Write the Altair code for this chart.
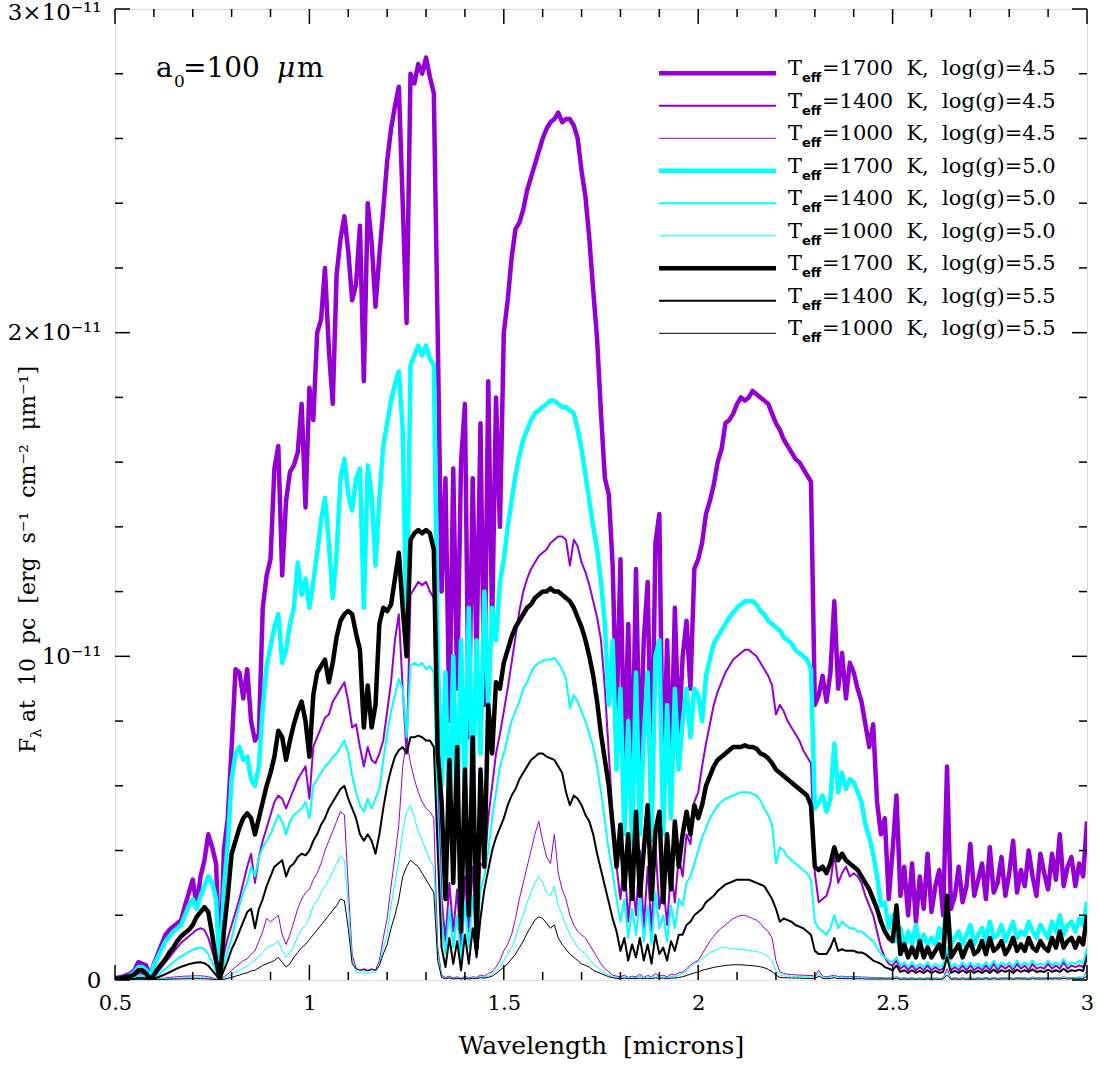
import altair as alt
import pandas as pd

# ---------------- data (flux in units of 1e-12 erg s^-1 cm^-2 um^-1) ----------------
wavelength = [round(0.50 + 0.01 * i, 2) for i in range(251)]

flux_1700_45 = [
    0.05, 0.08, 0.1, 0.15, 0.2, 0.3, 0.55, 0.5, 0.45, 0.1,
    0.5, 0.8, 1.1, 1.4, 1.55, 1.65, 1.75, 1.85, 2.3, 2.7,
    3.1, 2.3, 3.2, 3.7, 4.5, 4.1, 3.6, 0.0, 4.0, 5.0,
    7.2, 9.6, 9.5, 8.7, 9.6, 8.0, 7.4, 7.6, 11.5, 12.5,
    13.0, 15.8, 16.5, 12.5, 14.8, 15.7, 15.9, 16.3, 17.8, 14.6,
    18.3, 17.3, 20.0, 20.4, 22.0, 19.5, 17.8, 21.8, 22.9, 23.6,
    22.5, 21.0, 21.5, 23.3, 18.5, 24.0, 22.8, 20.8, 22.4, 23.8,
    25.3, 26.3, 27.0, 27.6, 24.0, 20.3, 28.0, 27.7, 28.3, 28.0,
    28.5, 27.9, 27.4, 20.0, 12.0, 15.5, 8.0, 15.8, 9.0, 16.0,
    17.8, 7.5, 15.5, 10.0, 17.2, 8.5, 18.5, 11.0, 18.0, 14.0,
    20.0, 21.0, 22.3, 23.2, 23.4, 23.8, 24.4, 24.8, 25.2, 25.6,
    26.0, 26.3, 26.5, 26.6, 26.8, 26.5, 26.6, 26.6, 26.4, 26.0,
    25.0, 24.2, 22.9, 21.3, 19.8, 17.5, 15.5, 15.0, 12.8, 8.0,
    13.0, 6.5, 11.0, 6.0, 12.7, 6.5, 10.5, 12.3, 5.8, 13.5,
    14.4, 5.6, 10.5, 6.5, 11.5, 7.5, 10.0, 11.1, 9.0, 12.7,
    13.0, 13.5, 14.4, 14.8, 15.3, 16.0, 16.4, 17.2, 17.3, 17.5,
    17.8, 18.0, 17.9, 18.0, 18.2, 18.1, 18.0, 17.9, 17.8, 17.5,
    17.2, 17.0, 16.7, 16.5, 16.3, 16.1, 16.0, 15.8, 15.6, 15.4,
    8.5, 8.8, 9.4, 8.6, 9.5, 11.7, 9.0, 10.1, 8.7, 9.8,
    9.5, 9.0, 8.6, 7.9, 7.2, 7.9, 5.5, 4.5, 5.0, 2.5,
    4.0, 5.7, 2.6, 3.5, 2.0, 3.6, 1.8, 3.2, 2.2, 3.9,
    2.1, 2.9, 3.4, 2.0, 6.6, 2.2, 2.6, 3.5, 2.4, 2.9,
    4.2, 2.6, 3.1, 3.6, 2.5, 4.1, 2.7, 3.0, 3.8, 2.6,
    3.3, 4.3, 2.7, 3.4, 2.9, 4.0, 3.2, 2.6, 3.9, 3.3,
    2.8, 3.9, 3.1, 4.5, 2.9, 3.5, 3.8, 2.9, 3.6, 3.2,
    4.9,
]

flux_1400_45 = [
    0.02, 0.03, 0.04, 0.06, 0.08, 0.12, 0.2, 0.2, 0.15, 0.02,
    0.1, 0.25, 0.4, 0.55, 0.7, 0.85, 1.0, 1.15, 1.25, 1.35,
    1.45, 1.55, 1.6, 1.55, 1.3, 0.9, 0.45, 0.0, 0.8, 1.3,
    1.7, 2.1, 2.5, 3.0, 3.5, 3.9, 3.0, 3.8, 4.3, 4.7,
    5.1, 5.5, 5.7, 5.6, 5.3, 5.6, 5.9, 6.2, 6.4, 6.6,
    5.6, 7.2, 7.5, 7.8, 8.1, 8.2, 8.6, 8.8, 9.0, 9.2,
    8.6, 7.8, 7.9, 7.2, 6.6, 7.2, 6.8, 6.7, 7.0, 7.4,
    8.3, 9.2, 10.5, 11.3, 9.0, 7.0, 11.9, 12.1, 12.3, 12.2,
    12.3, 12.0, 11.8, 6.0, 2.5, 1.2, 3.0, 1.5, 2.8, 0.9,
    3.2, 1.5, 3.5, 1.8, 3.6, 3.5, 5.0, 6.0, 7.0, 7.6,
    8.3, 9.0, 9.8, 10.6, 11.4, 12.0, 12.4, 12.7, 12.9, 13.1,
    13.2, 13.3, 13.5, 13.6, 13.7, 13.7, 13.6, 12.8, 13.6, 13.4,
    12.9, 12.6, 12.2, 11.7, 11.2, 10.5, 9.0, 7.0, 5.0, 3.5,
    2.5, 3.8, 1.8, 3.2, 2.0, 4.0, 1.6, 3.5, 1.5, 4.2,
    2.2, 3.0, 1.7, 3.4, 2.4, 3.8, 3.2, 4.5, 4.2, 5.5,
    5.8, 6.6, 7.3, 7.9, 8.5, 8.9, 9.2, 9.5, 9.7, 9.9,
    10.0, 10.1, 10.2, 10.2, 10.1, 10.0, 9.8, 9.6, 9.4, 9.1,
    8.2, 8.5, 8.3, 8.0, 7.8, 7.6, 7.4, 7.1, 6.9, 6.7,
    3.3, 2.4, 2.5, 2.6, 3.0, 3.9, 3.0, 3.3, 3.5, 3.2,
    3.3, 3.2, 3.0, 2.6, 2.3, 2.0, 1.5, 1.0, 0.7, 0.5,
    0.45, 0.6, 0.35, 0.45, 0.3, 0.45, 0.3, 0.4, 0.3, 0.45,
    0.3, 0.4, 0.3, 0.35, 0.9, 0.3, 0.4, 0.3, 0.45, 0.3,
    0.45, 0.3, 0.4, 0.3, 0.45, 0.3, 0.5, 0.3, 0.45, 0.35,
    0.45, 0.3, 0.5, 0.35, 0.45, 0.3, 0.5, 0.35, 0.4, 0.35,
    0.5, 0.35, 0.45, 0.35, 0.55, 0.35, 0.45, 0.4, 0.45, 0.4,
    0.8,
]

flux_1000_45 = [
    0.0, 0.005, 0.01, 0.01, 0.015, 0.02, 0.03, 0.03, 0.02, 0.0,
    0.02, 0.03, 0.05, 0.06, 0.08, 0.09, 0.1, 0.11, 0.12, 0.12,
    0.13, 0.13, 0.13, 0.12, 0.1, 0.07, 0.03, 0.0, 0.1, 0.18,
    0.3, 0.4, 0.5, 0.6, 0.65, 0.8, 0.9, 1.2, 1.5, 1.9,
    1.8, 1.9, 2.0, 1.4, 1.1, 1.4, 1.8, 2.2, 2.5, 2.7,
    2.8, 3.1, 3.3, 3.6, 4.0, 4.3, 4.6, 4.9, 5.2, 5.1,
    2.9, 0.8, 0.35, 0.3, 0.35, 0.3, 0.35, 0.3, 0.6, 1.3,
    1.9, 2.9, 3.8, 4.8, 6.6, 7.4, 6.7, 6.2, 5.8, 5.5,
    5.3, 5.2, 5.0, 1.0, 0.15, 0.08, 0.12, 0.06, 0.1, 0.05,
    0.12, 0.06, 0.1, 0.08, 0.15, 0.12, 0.2, 0.25, 0.4, 0.6,
    0.9, 1.1, 1.4, 1.9, 2.5, 3.0, 3.5, 4.0, 4.5, 4.9,
    4.3, 3.8, 3.6, 4.5, 3.3, 2.8, 2.5, 2.0, 1.7, 1.5,
    1.4, 1.3, 1.1, 0.9, 0.7, 0.5, 0.35, 0.25, 0.15, 0.12,
    0.1, 0.15, 0.08, 0.12, 0.1, 0.18, 0.08, 0.14, 0.1, 0.2,
    0.12, 0.15, 0.1, 0.18, 0.15, 0.22, 0.25, 0.35, 0.45, 0.55,
    0.6, 0.8, 1.0, 1.2, 1.35, 1.5, 1.6, 1.7, 1.8, 1.9,
    1.95, 2.0, 2.0, 1.95, 1.9, 1.85, 1.75, 1.6, 1.5, 1.3,
    0.6, 0.25, 0.2, 0.18, 0.17, 0.16, 0.15, 0.15, 0.14, 0.14,
    0.12, 0.3, 0.12, 0.1, 0.12, 0.15, 0.1, 0.12, 0.1, 0.1,
    0.1, 0.1, 0.09, 0.09, 0.08, 0.08, 0.07, 0.07, 0.06, 0.06,
    0.06, 0.1, 0.05, 0.07, 0.05, 0.07, 0.05, 0.06, 0.05, 0.07,
    0.05, 0.06, 0.05, 0.06, 0.35, 0.05, 0.07, 0.05, 0.07, 0.05,
    0.07, 0.05, 0.07, 0.05, 0.08, 0.05, 0.08, 0.05, 0.07, 0.06,
    0.08, 0.05, 0.08, 0.06, 0.07, 0.05, 0.09, 0.06, 0.07, 0.06,
    0.08, 0.06, 0.08, 0.06, 0.1, 0.06, 0.08, 0.07, 0.09, 0.08,
    0.3,
]

flux_1700_50 = [
    0.02, 0.04, 0.06, 0.1, 0.15, 0.25, 0.4, 0.4, 0.3, 0.1,
    0.45, 0.7, 0.95, 1.2, 1.35, 1.5, 1.6, 1.7, 2.0, 2.3,
    2.5, 2.2, 2.6, 2.9, 3.2, 3.0, 2.5, 0.0, 2.8, 4.2,
    6.2, 7.0, 7.2, 6.8, 6.9, 6.2, 6.0, 6.6, 8.4, 9.7,
    10.3, 10.9, 11.3, 9.8, 10.2, 11.0, 11.5, 12.9, 11.9, 12.4,
    11.5, 12.3, 13.2, 14.2, 14.9, 13.5, 11.8, 13.2, 15.5, 16.1,
    15.0, 14.5, 15.5, 15.8, 11.5, 15.9, 15.0, 12.8, 14.9, 16.5,
    17.2, 17.9, 18.4, 18.8, 17.0, 10.5, 19.0, 19.3, 19.6, 19.3,
    19.6, 19.2, 19.0, 10.0, 6.0, 9.5, 4.5, 10.0, 5.0, 10.5,
    6.0, 11.5, 5.5, 10.5, 7.0, 12.0, 8.5, 11.5, 10.5, 12.3,
    13.0, 14.0, 14.8, 15.6, 16.2, 16.7, 17.0, 17.3, 17.5, 17.6,
    17.7, 17.8, 17.9, 17.9, 17.8, 17.7, 17.7, 17.6, 17.5, 17.0,
    16.4, 15.6, 14.8, 14.0, 13.3, 12.3, 11.0, 8.5, 10.5, 6.5,
    9.0, 4.5, 8.0, 4.2, 9.5, 4.5, 7.5, 9.5, 4.3, 10.0,
    10.5, 4.5, 8.5, 5.0, 9.0, 6.5, 8.0, 9.0, 7.5, 9.0,
    8.8, 8.0, 9.4, 9.9, 10.4, 10.6, 10.8, 11.0, 11.2, 11.35,
    11.5, 11.6, 11.7, 11.7, 11.7, 11.6, 11.4, 11.3, 11.1, 11.0,
    10.9, 10.8, 10.6, 10.5, 10.4, 10.2, 10.1, 10.0, 9.9, 9.6,
    5.3, 5.5, 5.7, 5.2, 5.6, 7.3, 5.8, 6.4, 5.9, 6.2,
    6.1, 5.8, 5.5, 4.8, 4.4, 3.9, 3.2, 2.3, 2.4, 1.6,
    2.0, 1.2, 1.6, 1.0, 1.5, 1.1, 1.7, 1.0, 1.4, 1.1,
    1.3, 1.1, 1.6, 1.2, 2.4, 1.1, 1.3, 1.5, 1.1, 1.4,
    1.7, 1.1, 1.4, 1.6, 1.2, 1.8, 1.3, 1.4, 1.7, 1.2,
    1.5, 1.8, 1.3, 1.5, 1.4, 1.8, 1.5, 1.3, 1.7, 1.5,
    1.3, 1.8, 1.5, 2.0, 1.4, 1.7, 1.8, 1.5, 1.9, 1.7,
    2.4,
]

flux_1400_50 = [
    0.01, 0.02, 0.03, 0.04, 0.05, 0.08, 0.12, 0.12, 0.1, 0.01,
    0.06, 0.15, 0.25, 0.35, 0.45, 0.55, 0.65, 0.72, 0.8, 0.87,
    0.93, 0.98, 1.0, 0.95, 0.8, 0.55, 0.28, 0.0, 0.5, 0.9,
    1.3, 1.8, 2.3, 2.7, 3.0, 3.5, 3.2, 3.8, 4.1, 4.3,
    4.5, 4.8, 5.1, 4.9, 4.5, 4.9, 5.1, 5.2, 5.3, 5.5,
    5.0, 6.0, 6.2, 6.4, 6.6, 6.7, 6.9, 7.0, 7.2, 7.4,
    7.0, 6.3, 5.8, 5.4, 5.2, 5.6, 5.3, 5.6, 5.9, 6.8,
    7.6, 8.3, 8.8, 9.3, 9.0, 7.5, 9.7, 9.8, 9.7, 9.8,
    9.6, 9.7, 9.5, 5.0, 1.8, 0.8, 2.2, 1.0, 2.0, 0.6,
    2.4, 1.0, 2.6, 1.2, 2.8, 3.2, 4.0, 5.0, 5.8, 6.6,
    7.0, 7.5, 8.0, 8.3, 8.6, 9.0, 9.2, 9.5, 9.7, 9.8,
    9.85, 9.9, 9.9, 9.95, 9.8, 9.6, 9.3, 8.4, 8.8, 8.6,
    8.3, 8.0, 7.6, 7.2, 6.6, 5.8, 4.9, 4.0, 3.3, 2.5,
    1.8, 2.5, 1.3, 2.2, 1.4, 2.6, 1.2, 2.3, 1.1, 2.7,
    1.6, 2.0, 1.2, 2.3, 1.6, 2.5, 2.3, 3.0, 3.2, 3.6,
    4.0, 4.4, 4.7, 5.0, 5.2, 5.4, 5.5, 5.6, 5.65, 5.7,
    5.75, 5.8, 5.8, 5.8, 5.75, 5.7, 5.55, 5.3, 5.1, 4.8,
    3.6, 4.1, 4.0, 3.8, 3.7, 3.6, 3.5, 3.4, 3.3, 3.1,
    1.8, 1.6, 1.5, 1.4, 1.6, 2.0, 1.6, 1.8, 1.7, 1.6,
    1.6, 1.5, 1.5, 1.4, 1.3, 1.2, 1.0, 0.8, 0.7, 0.6,
    0.55, 0.7, 0.45, 0.55, 0.4, 0.55, 0.4, 0.5, 0.4, 0.55,
    0.4, 0.5, 0.4, 0.45, 1.0, 0.4, 0.5, 0.4, 0.55, 0.4,
    0.55, 0.4, 0.5, 0.4, 0.55, 0.4, 0.6, 0.4, 0.55, 0.45,
    0.55, 0.4, 0.6, 0.45, 0.55, 0.45, 0.6, 0.45, 0.5, 0.45,
    0.6, 0.45, 0.55, 0.45, 0.65, 0.45, 0.55, 0.5, 0.6, 0.5,
    1.0,
]

flux_1000_50 = [
    0.0, 0.003, 0.005, 0.007, 0.01, 0.012, 0.015, 0.015, 0.01, 0.0,
    0.01, 0.02, 0.03, 0.035, 0.045, 0.05, 0.055, 0.06, 0.065, 0.07,
    0.07, 0.07, 0.07, 0.065, 0.055, 0.04, 0.02, 0.0, 0.05, 0.1,
    0.18, 0.25, 0.3, 0.38, 0.42, 0.55, 0.6, 0.75, 0.85, 1.0,
    1.05, 1.1, 1.2, 0.9, 0.7, 0.85, 1.05, 1.35, 1.55, 1.7,
    1.9, 2.3, 2.45, 2.7, 2.9, 3.1, 3.35, 3.6, 3.85, 3.7,
    2.3, 0.6, 0.25, 0.22, 0.25, 0.2, 0.25, 0.22, 0.45, 1.0,
    1.4, 2.3, 3.0, 3.7, 4.6, 5.2, 5.4, 5.0, 4.6, 4.3,
    4.0, 3.7, 3.5, 0.8, 0.1, 0.05, 0.08, 0.04, 0.07, 0.04,
    0.08, 0.04, 0.07, 0.05, 0.1, 0.08, 0.12, 0.18, 0.3, 0.4,
    0.6, 0.8, 1.0, 1.3, 1.7, 2.0, 2.4, 2.7, 3.0, 3.2,
    3.0, 2.7, 2.6, 2.9, 2.3, 2.0, 1.7, 1.4, 1.2, 1.0,
    0.9, 0.8, 0.65, 0.5, 0.4, 0.3, 0.2, 0.15, 0.1, 0.08,
    0.07, 0.1, 0.06, 0.09, 0.07, 0.12, 0.06, 0.1, 0.07, 0.14,
    0.08, 0.1, 0.07, 0.12, 0.1, 0.15, 0.2, 0.3, 0.4, 0.5,
    0.55, 0.65, 0.75, 0.85, 0.9, 0.95, 1.0, 1.0, 0.98, 0.97,
    0.95, 0.95, 0.93, 0.92, 0.9, 0.88, 0.85, 0.8, 0.72, 0.6,
    0.3, 0.15, 0.13, 0.12, 0.12, 0.11, 0.11, 0.1, 0.1, 0.1,
    0.09, 0.2, 0.09, 0.08, 0.09, 0.12, 0.08, 0.09, 0.08, 0.08,
    0.08, 0.07, 0.07, 0.07, 0.06, 0.06, 0.06, 0.05, 0.05, 0.05,
    0.05, 0.08, 0.04, 0.06, 0.04, 0.06, 0.04, 0.05, 0.04, 0.06,
    0.04, 0.05, 0.04, 0.05, 0.25, 0.04, 0.06, 0.04, 0.06, 0.04,
    0.06, 0.04, 0.06, 0.04, 0.07, 0.04, 0.07, 0.04, 0.06, 0.05,
    0.07, 0.04, 0.07, 0.05, 0.06, 0.04, 0.08, 0.05, 0.06, 0.05,
    0.07, 0.05, 0.07, 0.05, 0.09, 0.05, 0.07, 0.06, 0.08, 0.07,
    0.25,
]

flux_1700_55 = [
    0.03, 0.05, 0.07, 0.1, 0.12, 0.18, 0.3, 0.3, 0.2, 0.02,
    0.15, 0.35, 0.5, 0.65, 0.85, 1.0, 1.2, 1.35, 1.45, 1.55,
    1.7, 1.95, 2.1, 2.25, 2.1, 1.4, 0.6, 0.0, 1.5, 2.6,
    3.9, 4.3, 4.7, 5.0, 5.15, 5.0, 4.5, 5.0, 5.5, 6.0,
    6.4, 6.9, 7.7, 7.5, 6.8, 7.4, 7.9, 8.3, 8.6, 8.0,
    6.9, 8.8, 9.5, 9.7, 9.9, 9.2, 9.8, 10.6, 11.1, 11.3,
    11.4, 11.3, 10.7, 10.2, 7.8, 9.1, 7.8, 8.5, 11.0, 11.5,
    11.4, 11.6, 12.4, 13.2, 11.5, 10.0, 13.6, 13.8, 13.9, 13.8,
    13.9, 13.8, 13.3, 7.0, 5.5, 2.5, 6.8, 3.0, 7.2, 1.5,
    6.5, 2.0, 7.5, 1.0, 6.5, 3.5, 8.5, 7.0, 9.2, 9.0,
    9.8, 10.2, 10.6, 10.9, 11.1, 11.3, 11.5, 11.6, 11.8, 11.9,
    12.0, 12.0, 12.1, 12.0, 12.0, 11.9, 11.8, 11.7, 11.5, 11.2,
    10.9, 10.5, 10.0, 9.4, 8.6, 7.6, 6.8, 6.0, 4.8, 3.5,
    4.8, 2.8, 4.5, 2.5, 5.2, 2.6, 4.0, 5.4, 2.5, 4.6,
    5.2, 2.4, 4.5, 2.8, 4.9, 3.5, 4.5, 5.2, 4.5, 5.4,
    5.0, 5.4, 6.0, 6.3, 6.6, 6.8, 6.9, 7.0, 7.1, 7.2,
    7.2, 7.2, 7.25, 7.2, 7.2, 7.15, 7.0, 6.95, 6.85, 6.7,
    6.5, 6.4, 6.3, 6.2, 6.1, 6.0, 5.9, 5.8, 5.7, 5.4,
    3.5, 3.4, 3.5, 3.3, 3.6, 4.1, 3.7, 3.9, 3.7, 3.6,
    3.5, 3.4, 3.2, 3.0, 2.8, 2.5, 2.2, 1.8, 1.5, 1.3,
    1.2, 2.3, 0.8, 1.1, 0.7, 1.0, 0.7, 1.2, 0.7, 1.0,
    0.7, 0.9, 1.1, 0.7, 2.6, 0.7, 0.9, 1.1, 0.7, 1.0,
    1.2, 0.8, 0.9, 1.2, 0.8, 1.3, 0.9, 1.0, 1.2, 0.8,
    1.0, 1.3, 0.9, 1.1, 0.9, 1.3, 1.0, 0.9, 1.2, 1.0,
    0.9, 1.3, 1.0, 1.5, 1.0, 1.2, 1.3, 1.0, 1.3, 1.1,
    2.0,
]

flux_1400_55 = [
    0.01, 0.01, 0.02, 0.02, 0.03, 0.04, 0.06, 0.06, 0.05, 0.0,
    0.03, 0.08, 0.13, 0.18, 0.24, 0.3, 0.36, 0.41, 0.45, 0.49,
    0.52, 0.54, 0.55, 0.52, 0.44, 0.3, 0.15, 0.0, 0.3, 0.6,
    0.95, 1.2, 1.5, 1.8, 2.1, 2.2, 1.6, 2.2, 2.5, 2.9,
    3.2, 3.5, 3.6, 3.7, 3.2, 3.5, 3.6, 3.8, 3.9, 3.85,
    4.0, 4.3, 4.5, 4.8, 5.0, 5.3, 5.5, 5.7, 5.9, 6.0,
    5.6, 5.3, 5.0, 4.5, 4.3, 4.5, 4.3, 3.9, 4.5, 5.3,
    6.0, 6.5, 6.9, 7.1, 7.2, 7.0, 7.5, 7.5, 7.55, 7.5,
    7.4, 7.4, 7.2, 4.0, 1.0, 0.4, 1.3, 0.5, 1.2, 0.3,
    1.4, 0.5, 1.6, 0.7, 1.9, 2.8, 3.4, 4.0, 4.4, 4.7,
    5.0, 5.4, 5.7, 5.9, 6.2, 6.4, 6.6, 6.8, 6.9, 7.0,
    7.0, 6.9, 6.85, 6.8, 6.6, 6.4, 5.8, 5.4, 5.7, 5.6,
    5.4, 5.1, 4.9, 4.5, 3.9, 3.4, 2.9, 2.4, 1.9, 1.5,
    0.9, 1.3, 0.6, 1.1, 0.7, 1.3, 0.6, 1.1, 0.5, 1.4,
    0.8, 1.0, 0.6, 1.2, 0.9, 1.4, 1.4, 1.7, 1.8, 2.0,
    2.1, 2.2, 2.4, 2.5, 2.6, 2.75, 2.85, 2.95, 3.0, 3.05,
    3.1, 3.1, 3.1, 3.1, 3.05, 3.0, 2.95, 2.9, 2.7, 2.5,
    2.2, 1.8, 1.9, 1.85, 1.8, 1.7, 1.65, 1.6, 1.5, 1.4,
    0.9, 0.8, 0.8, 0.8, 1.0, 1.3, 0.9, 0.95, 0.9, 0.9,
    0.9, 0.85, 0.85, 0.8, 0.7, 0.6, 0.55, 0.5, 0.4, 0.35,
    0.3, 0.45, 0.25, 0.3, 0.22, 0.3, 0.22, 0.28, 0.22, 0.3,
    0.22, 0.28, 0.22, 0.25, 0.7, 0.22, 0.28, 0.22, 0.3, 0.22,
    0.3, 0.22, 0.28, 0.22, 0.3, 0.22, 0.32, 0.22, 0.3, 0.25,
    0.3, 0.22, 0.32, 0.25, 0.3, 0.25, 0.33, 0.25, 0.28, 0.25,
    0.32, 0.25, 0.3, 0.25, 0.35, 0.25, 0.3, 0.28, 0.32, 0.28,
    0.7,
]

flux_1000_55 = [
    0.0, 0.002, 0.003, 0.004, 0.005, 0.007, 0.009, 0.009, 0.006, 0.0,
    0.005, 0.01, 0.015, 0.02, 0.025, 0.028, 0.032, 0.035, 0.038, 0.04,
    0.04, 0.04, 0.04, 0.038, 0.032, 0.022, 0.01, 0.0, 0.02, 0.05,
    0.08, 0.12, 0.15, 0.2, 0.22, 0.28, 0.3, 0.38, 0.45, 0.5,
    0.55, 0.6, 0.7, 0.55, 0.4, 0.5, 0.7, 0.85, 1.0, 1.1,
    1.25, 1.4, 1.55, 1.7, 1.85, 2.0, 2.15, 2.3, 2.5, 2.45,
    1.6, 0.5, 0.35, 0.3, 0.32, 0.28, 0.32, 0.3, 0.45, 0.8,
    1.1, 1.6, 2.0, 2.5, 3.2, 3.5, 3.7, 3.6, 3.5, 3.3,
    3.1, 2.9, 2.7, 0.6, 0.08, 0.04, 0.06, 0.03, 0.05, 0.03,
    0.05, 0.03, 0.05, 0.04, 0.07, 0.06, 0.08, 0.12, 0.2, 0.3,
    0.4, 0.5, 0.65, 0.8, 1.0, 1.2, 1.45, 1.65, 1.85, 1.95,
    1.9, 1.75, 1.6, 1.7, 1.3, 1.1, 0.95, 0.8, 0.7, 0.6,
    0.5, 0.45, 0.4, 0.3, 0.25, 0.2, 0.15, 0.1, 0.07, 0.05,
    0.04, 0.06, 0.04, 0.05, 0.04, 0.06, 0.04, 0.05, 0.04, 0.07,
    0.05, 0.06, 0.04, 0.06, 0.06, 0.08, 0.1, 0.14, 0.18, 0.22,
    0.25, 0.3, 0.33, 0.36, 0.39, 0.41, 0.43, 0.45, 0.46, 0.47,
    0.47, 0.47, 0.46, 0.45, 0.44, 0.43, 0.41, 0.38, 0.33, 0.26,
    0.15, 0.08, 0.07, 0.07, 0.06, 0.06, 0.06, 0.05, 0.05, 0.05,
    0.05, 0.12, 0.05, 0.04, 0.05, 0.07, 0.04, 0.05, 0.04, 0.04,
    0.04, 0.04, 0.04, 0.03, 0.03, 0.03, 0.03, 0.03, 0.03, 0.03,
    0.03, 0.05, 0.02, 0.03, 0.02, 0.03, 0.02, 0.03, 0.02, 0.03,
    0.02, 0.03, 0.02, 0.03, 0.15, 0.02, 0.03, 0.02, 0.03, 0.02,
    0.03, 0.02, 0.03, 0.02, 0.04, 0.02, 0.04, 0.02, 0.03, 0.03,
    0.04, 0.02, 0.04, 0.03, 0.03, 0.02, 0.04, 0.03, 0.03, 0.03,
    0.04, 0.03, 0.04, 0.03, 0.05, 0.03, 0.04, 0.03, 0.04, 0.04,
    0.12,
]

teff_labels = ["1700", "1400", "1000", "1700", "1400", "1000", "1700", "1400", "1000"]
logg_labels = ["4.5", "4.5", "4.5", "5.0", "5.0", "5.0", "5.5", "5.5", "5.5"]
series_values = [flux_1700_45, flux_1400_45, flux_1000_45,
                 flux_1700_50, flux_1400_50, flux_1000_50,
                 flux_1700_55, flux_1400_55, flux_1000_55]
line_colors = ["#9400D3", "#9400D3", "#9400D3",
               "#00FFFF", "#00FFFF", "#00FFFF",
               "#000000", "#000000", "#000000"]
line_widths = [4.5, 2.0, 1.0, 4.5, 2.0, 1.0, 4.5, 2.0, 1.0]

for v in series_values:
    assert len(v) == len(wavelength)

# ---------------- layout constants ----------------
W, H = 972, 971
FONT = "DejaVu Serif"
NB = "\u00a0"

x_scale = alt.Scale(domain=[0.5, 3.0], nice=False, zero=False)
y_scale = alt.Scale(domain=[0, 3e-11], nice=False, zero=False)

# one identical axis definition shared by every layer that uses the scales
x_axis = alt.Axis(
    values=[0.5, 1, 1.5, 2, 2.5, 3], format="~g", ticks=False, tickSize=0,
    domain=False, grid=False, labelFlush=False, labelOverlap=False,
    labelFont=FONT, labelFontSize=21, labelColor="black", labelPadding=12,
    title="Wavelength" + NB + NB + "[microns]", titleFont=FONT, titleFontSize=25,
    titleFontWeight="normal", titleColor="black", titleX=486, titleY=73,
    titleBaseline="alphabetic", titleAlign="center",
)
y_axis = alt.Axis(
    values=[0, 1e-11, 2e-11, 3e-11], ticks=False, tickSize=0, domain=False,
    grid=False, labelFlush=False, labelOverlap=False, labelFont=FONT,
    labelFontSize=23, labelColor="black", labelPadding=14, labelBaseline="middle",
    labelOffset={"condition": {"test": "datum.value > 2.5e-11", "value": 3}, "value": 0},
    labelExpr="datum.value == 0 ? '0' : (round(datum.value*1e11) == 1 ? '10⁻¹¹' : round(datum.value*1e11) + '×10⁻¹¹')",
    title="",
)

layers = []
for i, vals in enumerate(series_values):
    d = pd.DataFrame({"wavelength": wavelength, "flux": [v * 1e-12 for v in vals]})
    layers.append(
        alt.Chart(d).mark_line(color=line_colors[i], strokeWidth=line_widths[i],
                               strokeJoin="round", clip=True)
        .encode(x=alt.X("wavelength:Q", scale=x_scale, axis=x_axis),
                y=alt.Y("flux:Q", scale=y_scale, axis=y_axis))
    )

# ---------------- inward ticks on all four sides ----------------
x_major = [0.5, 1.0, 1.5, 2.0, 2.5, 3.0]
x_minor = [round(0.5 + 0.1 * k, 1) for k in range(26) if k % 5 != 0]
y_major = [0.0, 1e-11, 2e-11, 3e-11]
y_minor = [k * 2e-12 for k in range(16) if k % 5 != 0]

def xticks(vals, length):
    d = pd.DataFrame({"wavelength": vals})
    bottom = alt.Chart(d).mark_rule(color="black", strokeWidth=1.5).encode(
        x=alt.X("wavelength:Q", scale=x_scale, axis=x_axis), y=alt.value(H), y2=alt.value(H - length))
    top = alt.Chart(d).mark_rule(color="black", strokeWidth=1.5).encode(
        x=alt.X("wavelength:Q", scale=x_scale, axis=x_axis), y=alt.value(0), y2=alt.value(length))
    return [bottom, top]

def yticks(vals, length):
    d = pd.DataFrame({"flux": vals})
    left = alt.Chart(d).mark_rule(color="black", strokeWidth=1.5).encode(
        y=alt.Y("flux:Q", scale=y_scale, axis=y_axis), x=alt.value(0), x2=alt.value(length))
    right = alt.Chart(d).mark_rule(color="black", strokeWidth=1.5).encode(
        y=alt.Y("flux:Q", scale=y_scale, axis=y_axis), x=alt.value(W), x2=alt.value(W - length))
    return [left, right]

tick_layers = xticks(x_major, 15) + xticks(x_minor, 8) + yticks(y_major, 15) + yticks(y_minor, 8)

# ---------------- hand-built legend ----------------
leg = pd.DataFrame({
    "row": list(range(9)),
    "rest": ["=" + t + NB + NB + "K," + NB + NB + "log(g)=" + g for t, g in zip(teff_labels, logg_labels)],
    "color": line_colors,
    "width": line_widths,
})
leg_rules = alt.Chart(leg).transform_calculate(ly="64.3 + 32.5*datum.row").mark_rule().encode(
    x=alt.value(544), x2=alt.value(661), y=alt.Y("ly:Q", scale=None),
    color=alt.Color("color:N", scale=None), strokeWidth=alt.StrokeWidth("width:Q", scale=None))
leg_T = alt.Chart(leg).transform_calculate(ty="66 + 32.5*datum.row").mark_text(
    text="T", align="left", baseline="alphabetic", font=FONT, fontSize=21, color="black"
).encode(x=alt.value(673), y=alt.Y("ty:Q", scale=None))
leg_eff = alt.Chart(leg).transform_calculate(ty="73 + 32.5*datum.row").mark_text(
    text="eff", align="left", baseline="alphabetic", font="DejaVu Sans", fontWeight="bold",
    fontSize=13, color="black"
).encode(x=alt.value(687), y=alt.Y("ty:Q", scale=None))
leg_rest = alt.Chart(leg).transform_calculate(ty="66 + 32.5*datum.row").mark_text(
    align="left", baseline="alphabetic", font=FONT, fontSize=21, color="black"
).encode(x=alt.value(707), y=alt.Y("ty:Q", scale=None), text="rest:N")

# ---------------- annotation a0 = 100 um ----------------
ann = pd.DataFrame({"a": [0]})
ann_a = alt.Chart(ann).mark_text(text="a", align="left", baseline="alphabetic",
                                 font=FONT, fontSize=28, color="black").encode(
    x=alt.value(41), y=alt.value(68))
ann_0 = alt.Chart(ann).mark_text(text="0", align="left", baseline="alphabetic",
                                 font=FONT, fontSize=17, color="black").encode(
    x=alt.value(59), y=alt.value(78))
ann_eq = alt.Chart(ann).mark_text(text="=100", align="left", baseline="alphabetic",
                                  font=FONT, fontSize=28, color="black").encode(
    x=alt.value(68), y=alt.value(68))
ann_mu = alt.Chart(ann).mark_text(text="μ", align="left", baseline="alphabetic",
                                  font=FONT, fontStyle="italic", fontSize=28, color="black").encode(
    x=alt.value(162), y=alt.value(68))
ann_m = alt.Chart(ann).mark_text(text="m", align="left", baseline="alphabetic",
                                 font=FONT, fontSize=28, color="black").encode(
    x=alt.value(182), y=alt.value(68))

# ---------------- rotated y-axis title ----------------
yt_F = alt.Chart(ann).mark_text(text="F", align="left", baseline="alphabetic", angle=270,
                                font=FONT, fontSize=22, color="black").encode(
    x=alt.value(-80), y=alt.value(744))
yt_l = alt.Chart(ann).mark_text(text="λ", align="left", baseline="alphabetic", angle=270,
                                font=FONT, fontSize=15, color="black").encode(
    x=alt.value(-74), y=alt.value(729))
yt_rest = alt.Chart(ann).mark_text(
    text="at" + NB + NB + "10" + NB + NB + "pc" + NB + NB + "[erg" + NB + NB + "s⁻¹" + NB + NB + "cm⁻²" + NB + NB + "μm⁻¹]",
    align="left", baseline="alphabetic", angle=270, font=FONT, fontSize=22, color="black"
).encode(x=alt.value(-80), y=alt.value(713))

chart = alt.layer(
    *layers, *tick_layers, leg_rules, leg_T, leg_eff, leg_rest,
    ann_a, ann_0, ann_eq, ann_mu, ann_m, yt_F, yt_l, yt_rest
).properties(
    width=W, height=H,
    padding={"left": 115, "top": 9, "right": 11, "bottom": 90},
    autosize=alt.AutoSizeParams(type="none"),
).configure_view(stroke="black", strokeWidth=2).configure(background="white")

chart.save("out.html", embed_options={"renderer": "svg", "actions": False})
